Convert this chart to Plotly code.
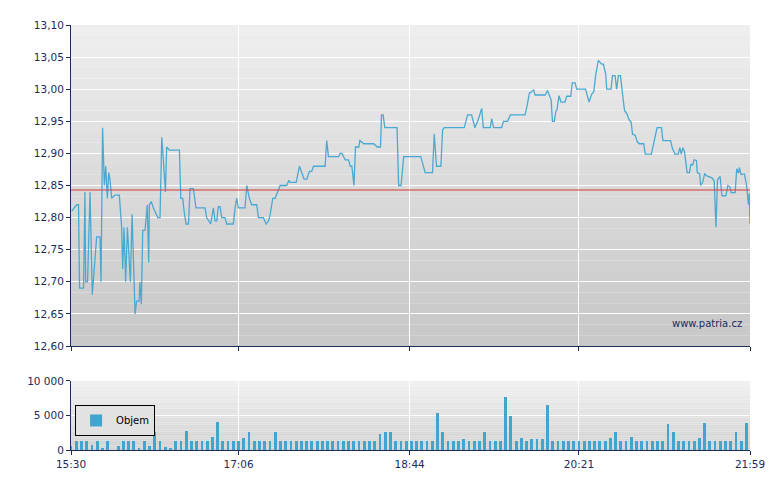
import plotly.graph_objects as go

# price series: minutes after 15:30 and price
PRICE_PTS = [
(0.4,12.81),(3.3,12.82),(4.3,12.82),(4.9,12.69),(7.2,12.69),(8.0,12.84),(8.4,12.70),(9.5,12.70),(10.9,12.84),(12.2,12.68),(14.7,12.77),(16.6,12.77),(17.2,12.70),(18.1,12.94),(19.1,12.85),(19.9,12.88),(20.8,12.83),(21.6,12.87),(22.3,12.86),(23.3,12.83),(25.2,12.835),(27.7,12.835),(29.0,12.785),(29.6,12.72),(30.4,12.785),(31.3,12.70),(32.3,12.785),(34.0,12.70),(35.0,12.805),(36.7,12.65),(37.6,12.67),(39.0,12.67),(39.5,12.70),(40.3,12.665),(41.1,12.78),(42.4,12.78),(43.7,12.82),(44.5,12.73),(44.9,12.82),(46.0,12.825),(47.2,12.815),(49.7,12.80),(51.0,12.80),(52.0,12.925),(52.9,12.89),(54.1,12.84),(54.8,12.91),(56.4,12.905),(57.7,12.905),(62.1,12.905),(62.9,12.83),(64.0,12.83),(64.8,12.81),(65.9,12.79),(67.3,12.79),(68.2,12.845),(70.1,12.845),(71.6,12.815),(76.8,12.815),(77.7,12.80),(80.0,12.79),(81.6,12.815),(82.5,12.795),(83.5,12.795),(84.4,12.817),(85.4,12.817),(86.3,12.80),(88.2,12.80),(89.2,12.79),(93.0,12.79),(94.0,12.815),(94.9,12.83),(95.9,12.815),(99.7,12.815),(100.7,12.85),(102.2,12.83),(103.5,12.82),(106.4,12.82),(107.4,12.80),(110.2,12.80),(111.8,12.79),(113.2,12.795),(114.1,12.805),(115.6,12.83),(116.9,12.83),(118.8,12.845),(119.8,12.85),(123.6,12.85),(124.8,12.858),(125.5,12.855),(129.0,12.855),(130.9,12.88),(132.2,12.87),(133.5,12.86),(135.1,12.86),(136.6,12.872),(137.9,12.872),(138.9,12.88),(145.6,12.88),(146.5,12.92),(147.5,12.895),(153.3,12.895),(154.2,12.90),(155.2,12.90),(157.1,12.89),(159.0,12.89),(160.0,12.88),(160.9,12.88),(162.1,12.85),(163.0,12.91),(164.9,12.91),(165.5,12.92),(167.8,12.915),(173.5,12.915),(175.4,12.91),(177.3,12.91),(177.9,12.96),(178.8,12.96),(179.8,12.94),(186.8,12.94),(187.7,12.85),(189.1,12.85),(190.6,12.895),(200.4,12.895),(202.9,12.87),(207.1,12.87),(208.1,12.93),(209.4,12.88),(211.9,12.88),(212.9,12.937),(213.8,12.94),(225.3,12.94),(227.2,12.96),(229.5,12.96),(231.4,12.94),(233.0,12.95),(235.3,12.97),(236.2,12.94),(240.2,12.94),(241.0,12.954),(242.1,12.94),(246.7,12.94),(247.8,12.95),(250.1,12.95),(251.7,12.96),(260.1,12.96),(261.2,12.973),(262.6,12.994),(263.5,12.995),(265.0,12.999),(265.9,12.991),(271.7,12.991),(273.0,12.998),(273.9,12.991),(275.1,12.983),(275.8,12.95),(276.9,12.95),(277.7,12.965),(278.4,12.968),(279.6,12.99),(280.7,12.98),(283.0,12.98),(284.0,12.989),(286.3,12.989),(287.2,13.01),(288.8,13.01),(289.7,13.0),(294.8,13.0),(296.8,12.98),(298.3,12.992),(299.5,12.996),(300.6,13.022),(302.1,13.045),(304.0,13.039),(305.0,13.039),(306.3,13.024),(306.9,13.0),(309.4,13.0),(310.2,13.021),(311.7,13.021),(312.6,13.0),(313.6,13.021),(314.8,13.021),(315.9,12.994),(317.1,12.967),(318.4,12.962),(319.8,12.952),(320.9,12.949),(321.7,12.93),(323.3,12.928),(324.4,12.918),(325.6,12.915),(328.1,12.915),(329.0,12.899),(332.5,12.899),(334.8,12.928),(335.8,12.94),(338.3,12.94),(339.1,12.92),(343.5,12.92),(344.4,12.909),(346.0,12.899),(347.9,12.899),(348.8,12.909),(349.6,12.899),(350.6,12.909),(351.5,12.902),(353.0,12.87),(354.3,12.87),(355.1,12.883),(356.2,12.882),(356.9,12.89),(358.3,12.889),(358.8,12.87),(360.2,12.868),(360.7,12.85),(361.9,12.855),(363.0,12.868),(364.3,12.865),(367.2,12.862),(368.5,12.857),(369.5,12.785),(370.4,12.859),(371.9,12.864),(372.9,12.834),(375.2,12.834),(376.3,12.85),(377.5,12.848),(378.2,12.839),(380.5,12.839),(381.4,12.876),(382.4,12.869),(382.9,12.878),(383.9,12.867),(385.8,12.868),(387.1,12.849),(388.1,12.82),(388.6,12.838),(389.0,12.79),
]
PRICE_MIN = [p[0] for p in PRICE_PTS]
PRICE_VAL = [p[1] for p in PRICE_PTS]
REF_PRICE = 12.843

VOL_MIN = list(range(0, 390, 3))
VOL_VAL = [
600,1300,1300,1300,800,1300,300,1300,0,600,1300,
1300,1300,300,1300,600,2600,1300,400,300,1300,
1300,2700,1300,1300,1300,1300,1900,4000,1300,1300,
1300,1300,1700,2600,1300,1300,1300,1300,2600,1300,
1300,1300,1300,1300,1300,1300,1300,1300,1300,1300,
1300,1300,1300,1300,1300,1300,1300,1300,2300,2600,
2600,1300,1300,1300,1300,1300,1300,1300,1300,5300,
2600,1300,1300,1300,1600,1300,1300,1300,2600,1300,
1300,1300,7700,4900,1300,1700,1300,1600,1600,1600,
6500,1300,1300,1300,1300,1300,1300,1300,1300,1300,
1300,1300,1800,2600,1300,1300,1900,1300,1300,1300,
1300,1300,1300,3700,2600,1300,1300,1300,1300,1800,
3900,1300,1300,1300,1300,1300,2600,1300,3900,
]

TICK_MIN = [0, 96, 194, 291, 389]
TICK_TXT = ["15:30", "17:06", "18:44", "20:21", "21:59"]

NAVY = "#1c2a5c"
fig = go.Figure()
fig.add_trace(go.Scatter(x=PRICE_MIN, y=PRICE_VAL, mode="lines", line=dict(color="#4aa9d2", width=1.3),
                         showlegend=False, xaxis="x", yaxis="y"))
fig.add_trace(go.Bar(x=VOL_MIN, y=VOL_VAL, width=1.6, marker=dict(color="#41a5d0", line=dict(width=0)),
                     name="Objem", xaxis="x2", yaxis="y2"))

shapes = []
N = 30
for ax, top, bot in (("", (238, 238, 238), (200, 200, 200)), ("2", (240, 240, 240), (212, 212, 212))):
    for i in range(N):
        t = i / (N - 1)
        c = tuple(int(top[k] + (bot[k] - top[k]) * t) for k in range(3))
        shapes.append(dict(type="rect", xref=f"x{ax} domain", yref=f"y{ax} domain",
                           x0=0, x1=1, y0=1 - (i + 1) / N, y1=1 - i / N,
                           fillcolor=f"rgb{c}", line=dict(width=0), layer="below"))
shapes.append(dict(type="line", xref="x domain", yref="y", x0=0, x1=1, y0=REF_PRICE, y1=REF_PRICE,
                   line=dict(color="rgba(215,70,70,0.75)", width=1.5)))

axfont = dict(family="DejaVu Sans", size=10.5, color=NAVY)
xcommon = dict(range=[0, 389], tickvals=TICK_MIN, showgrid=True, gridcolor="white", gridwidth=1,
               showline=True, linecolor=NAVY, ticks="outside", ticklen=4, tickcolor=NAVY,
               zeroline=False, tickfont=axfont)
fig.update_layout(
    width=780, height=490, separators=", ",
    margin=dict(l=63, r=38, t=17, b=48),
    paper_bgcolor="white", plot_bgcolor="rgba(0,0,0,0)",
    xaxis=dict(**xcommon, domain=[0, 1], anchor="y", showticklabels=False, ticktext=TICK_TXT),
    xaxis2=dict(**xcommon, domain=[0, 1], anchor="y2", ticktext=TICK_TXT),
    yaxis=dict(domain=[0.2447, 1], range=[12.6, 13.1], dtick=0.05, tickformat=".2f",
               showgrid=True, gridcolor="white", showline=True, linecolor=NAVY,
               ticks="outside", ticklen=4, tickcolor=NAVY, tickfont=axfont, zeroline=False),
    yaxis2=dict(domain=[0, 0.1624], range=[0, 10000], tickvals=[0, 5000, 10000], tickformat=",d",
                showgrid=True, gridcolor="white", showline=True, linecolor=NAVY,
                ticks="outside", ticklen=4, tickcolor=NAVY, tickfont=axfont, zeroline=False),
    shapes=shapes,
    bargap=0,
    showlegend=True,
    legend=dict(x=0.006, y=0.106, xref="paper", yref="paper", xanchor="left", yanchor="top",
                bgcolor="#e2e2e2", bordercolor="black", borderwidth=1, itemwidth=30,
                font=dict(family="DejaVu Sans", size=10, color="black")),
    annotations=[dict(text="www.patria.cz", x=1, y=12.635, xref="x domain", yref="y",
                      xanchor="right", xshift=-6, showarrow=False,
                      font=dict(family="DejaVu Sans", size=10, color=NAVY))],
)
fig.write_html("out.html")
